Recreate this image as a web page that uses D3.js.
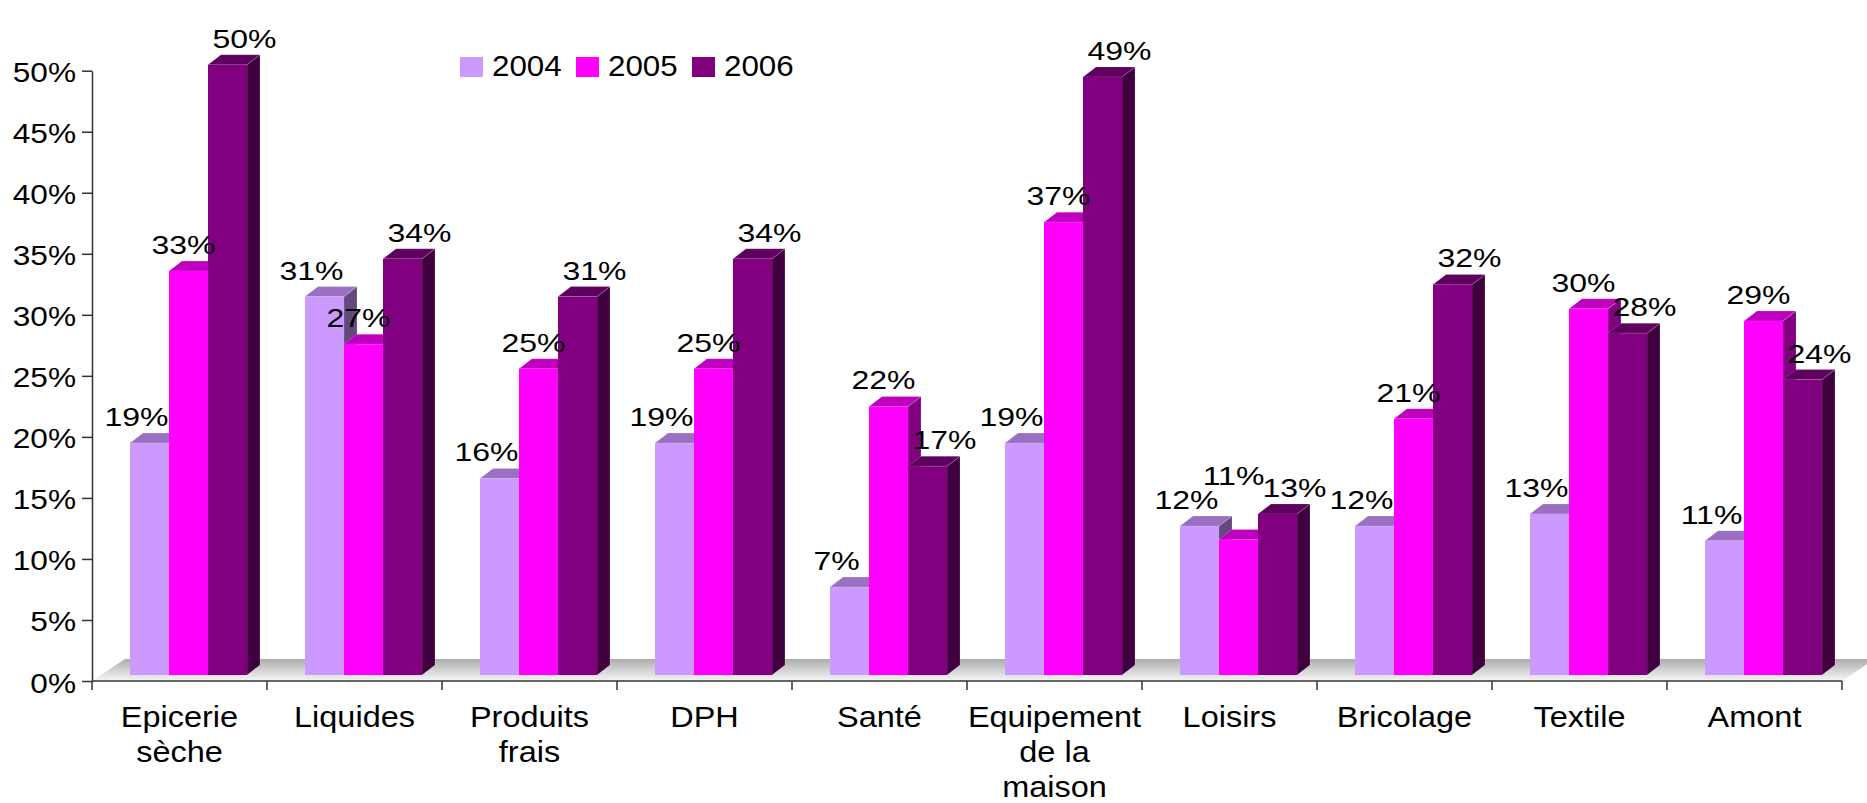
<!DOCTYPE html>
<html>
<head>
<meta charset="utf-8">
<script src="https://cdn.jsdelivr.net/npm/d3@7"></script>
<style>
  body { margin: 0; background: #fff; }
  svg { display: block; font-family: "Liberation Sans", Arial, sans-serif; }
</style>
</head>
<body>
<svg id="chart" width="1867" height="803"></svg>
<script>
// categories (line breaks as in the original axis labels)
var categories = ["Epicerie\nsèche", "Liquides", "Produits\nfrais", "DPH", "Santé",
                  "Equipement\nde la\nmaison", "Loisirs", "Bricolage", "Textile", "Amont"];
var series = ["2004", "2005", "2006"];
var v2004 = [0.19, 0.31, 0.161, 0.19, 0.072, 0.19, 0.122, 0.122, 0.132, 0.11];
var v2005 = [0.331, 0.271, 0.251, 0.251, 0.22, 0.371, 0.111, 0.21, 0.30, 0.29];
var v2006 = [0.50, 0.341, 0.31, 0.341, 0.171, 0.49, 0.132, 0.32, 0.28, 0.242];
var yTicks = [0, 0.05, 0.10, 0.15, 0.20, 0.25, 0.30, 0.35, 0.40, 0.45, 0.50];

var values = [v2004, v2005, v2006];
var front = ["#cc99ff", "#ff00ff", "#800080"];
var topC  = ["#9b70c2", "#bf00bf", "#5e005e"];
var sideC = ["#62497e", "#800080", "#400040"];
var labelShift = [-13, -5, 17];

var svg = d3.select("#chart");
var y0 = 681, depthX = 13, depthY = -10, lift = 6;

var x = d3.scaleBand().domain(d3.range(categories.length)).range([92, 1842]);
var inner = d3.scaleBand().domain(d3.range(series.length)).range([38, 155]);
var y = d3.scaleLinear().domain([0, 0.5]).range([y0, 70.7]);

// floor gradient
var defs = svg.append("defs");
var grad = defs.append("linearGradient").attr("id", "floor")
  .attr("x1", 0).attr("y1", 0).attr("x2", 0).attr("y2", 1);
grad.append("stop").attr("offset", "0%").attr("stop-color", "#adadad");
grad.append("stop").attr("offset", "100%").attr("stop-color", "#f6f6f6");

var fx0 = x.range()[0], fx1 = x.range()[1];
svg.append("path")
  .attr("d", "M" + fx0 + "," + y0 + "L" + (fx0 + 33) + "," + (y0 - 22) +
             "L" + (fx1 + 33) + "," + (y0 - 22) + "L" + fx1 + "," + y0 + "Z")
  .attr("fill", "url(#floor)");

// y axis
var yAxis = svg.append("g").attr("transform", "translate(92,0)")
  .call(d3.axisLeft(y).tickValues(yTicks).tickSize(10).tickSizeOuter(0).tickFormat(d3.format(".0%")));
yAxis.select(".domain").attr("stroke", "#333").attr("stroke-width", 1.5);
yAxis.selectAll(".tick line").attr("stroke", "#333").attr("stroke-width", 1.5);
yAxis.selectAll(".tick text")
  .attr("x", null).attr("dy", null)
  .attr("transform", "translate(-16,11) scale(1.13,1)")
  .attr("font-size", 28).attr("fill", "#000").attr("text-anchor", "end");

// x axis (ticks on band boundaries)
svg.append("line").attr("x1", 92).attr("x2", fx1).attr("y1", y0).attr("y2", y0)
  .attr("stroke", "#333").attr("stroke-width", 1.5);
var bounds = d3.range(categories.length).map(function(i) { return x(i); }).concat([fx1]);
svg.selectAll(".xtick").data(bounds).enter().append("line")
  .attr("x1", function(d) { return d; }).attr("x2", function(d) { return d; })
  .attr("y1", y0).attr("y2", y0 + 9)
  .attr("stroke", "#333").attr("stroke-width", 1.5);

svg.selectAll(".cat").data(categories).enter().append("g")
  .attr("transform", function(d, i) { return "translate(" + (x(i) + x.bandwidth() / 2) + ",0)"; })
  .each(function(d) {
    var g = d3.select(this);
    d.split("\n").forEach(function(line, k) {
      g.append("text").text(line)
        .attr("transform", "translate(0," + (727 + k * 35) + ") scale(1.12,1)")
        .attr("text-anchor", "middle").attr("font-size", 29).attr("fill", "#000");
    });
  });

// 3D bars
var bars = [];
categories.forEach(function(c, i) {
  series.forEach(function(s, j) {
    bars.push({ i: i, j: j, v: values[j][i] });
  });
});

var bar = svg.selectAll(".bar").data(bars).enter().append("g");
bar.each(function(d) {
  var g = d3.select(this);
  var bx = x(d.i) + inner(d.j), bw = inner.bandwidth();
  var top = y(d.v) - lift, bot = y(0) - lift;
  g.append("path")
    .attr("d", "M" + (bx + bw) + "," + top + "L" + (bx + bw + depthX) + "," + (top + depthY) +
               "L" + (bx + bw + depthX) + "," + (bot + depthY) + "L" + (bx + bw) + "," + bot + "Z")
    .attr("fill", sideC[d.j]).attr("stroke", "rgba(255,255,255,0.25)").attr("stroke-width", 0.7);
  g.append("path")
    .attr("d", "M" + bx + "," + top + "L" + (bx + depthX) + "," + (top + depthY) +
               "L" + (bx + bw + depthX) + "," + (top + depthY) + "L" + (bx + bw) + "," + top + "Z")
    .attr("fill", topC[d.j]).attr("stroke", "rgba(255,255,255,0.25)").attr("stroke-width", 0.7);
  g.append("rect")
    .attr("x", bx).attr("y", top).attr("width", bw).attr("height", bot - top)
    .attr("fill", front[d.j]);
});

// value labels, lifted when they would collide with the previous one in the group
bars.forEach(function(d) {
  d.lx = x(d.i) + inner(d.j) + inner.bandwidth() / 2 + labelShift[d.j];
  d.ly = y(d.v) - lift - 17;
});
var lbls = svg.selectAll(".lbl").data(bars).enter().append("text")
  .text(function(d) { return d3.format(".0%")(d.v); })
  .attr("text-anchor", "middle").attr("font-size", 26).attr("fill", "#000")
  .each(function(d) { d.lw = this.getComputedTextLength() * 1.23; });
bars.forEach(function(d, k) {
  if (d.j === 0) return;
  var p = bars[k - 1];
  var overlapX = (p.lw + d.lw) / 2 - Math.abs(p.lx - d.lx);
  if (overlapX > 10 && Math.abs(p.ly - d.ly) < 20) d.ly = Math.min(d.ly, p.ly - 24);
});
lbls.attr("transform", function(d) {
  return "translate(" + d.lx + "," + d.ly + ") scale(1.23,1)";
});

// legend
var legend = svg.selectAll(".leg").data(series).enter().append("g")
  .attr("transform", function(d, k) { return "translate(" + (460 + k * 116) + ",57)"; });
legend.append("rect").attr("width", 23).attr("height", 20)
  .attr("fill", function(d, k) { return front[k]; });
legend.append("text").text(function(d) { return d; })
  .attr("transform", "translate(32,19) scale(1.08,1)")
  .attr("font-size", 29).attr("fill", "#000");
</script>
</body>
</html>
